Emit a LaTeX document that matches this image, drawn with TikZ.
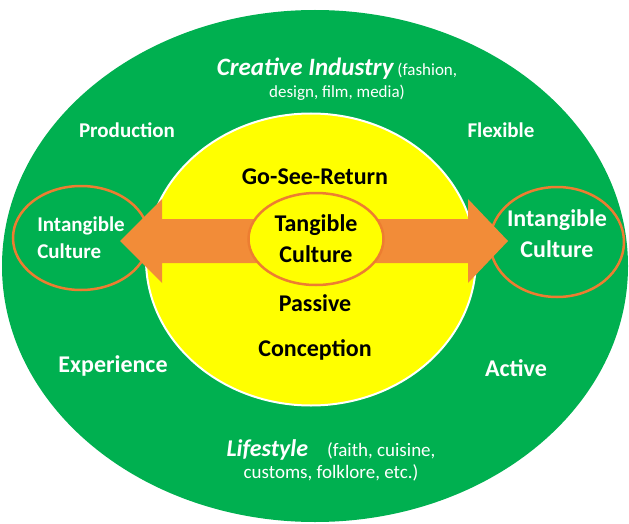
\documentclass[tikz,border=0pt]{standalone}
\usepackage{fontspec}
\setmainfont{Carlito}
\usetikzlibrary{shapes.geometric}
\definecolor{leafgreen}{HTML}{00B050}
\definecolor{sunyellow}{HTML}{FFFF00}
\definecolor{arroworange}{HTML}{F28C38}
\definecolor{ringorange}{HTML}{ED7D31}
\tikzset{
  ring/.style={ellipse, draw=ringorange, line width=2.5pt, inner sep=0pt},
  wlabel/.style={text=white, font=\bfseries\fontsize{24}{31}\selectfont, align=center},
  blabel/.style={text=black, font=\bfseries\fontsize{24}{31}\selectfont, align=center},
}
\begin{document}
\begin{tikzpicture}[x=1pt,y=-1pt]
	\useasboundingbox (0,0) rectangle (629,524);
	% discs
	\node[ellipse, fill=leafgreen, minimum width=626pt, minimum height=512pt, inner sep=0pt] (life) at (315,266) {};
	\node[ellipse, fill=sunyellow, draw=white, line width=2pt, minimum width=330pt, minimum height=292pt, inner sep=0pt] (core) at (311,259.5) {};
	% intangible rings
	\node[ring, minimum width=136pt, minimum height=104pt] (intl) at (81,238) {};
	\node[wlabel, align=left, font=\bfseries\fontsize{21}{27}\selectfont] (intltext) at (intl) {Intangible\\Culture};
	\node[ring, minimum width=134pt, minimum height=110pt] (intr) at (557,242) {};
	\node[wlabel, yshift=8pt] (intrtext) at (intr) {Intangible\\Culture};
	% double arrow
	\coordinate (tipl) at (120,241);
	\coordinate (tipr) at (508,241);
	\fill[arroworange] (tipl) -- ++(42,-42) -- ++(0,20) -- ++(306,0) -- ++(0,-20) -- (tipr)
		-- ++(-40,42) -- ++(0,-20) -- ++(-306,0) -- ++(0,20) -- cycle;
	\node[ring, fill=sunyellow, minimum width=135pt, minimum height=92pt, blabel] (tang) at (316,239) {Tangible\\Culture};
	% yellow words
	\node[blabel] (gosee) at (315,177) {Go-See-Return};
	\node[blabel] (passive) at (315,303) {Passive};
	\node[blabel] (concept) at (315,350) {Conception};
	% green words
	\node[wlabel, font=\bfseries\fontsize{21}{25}\selectfont] (prod) at (127,130) {Production};
	\node[wlabel, font=\bfseries\fontsize{21}{25}\selectfont] (flex) at (501,130) {Flexible};
	\node[wlabel] (exper) at (113,366) {Experience};
	\node[wlabel] (active) at (516,368) {Active};
	\node[wlabel, font=\fontsize{17}{22}\selectfont] (creative) at (337,79)
		{{\bfseries\itshape\fontsize{25}{22}\selectfont Creative Industry} (fashion,\\design, film, media)};
	\node[wlabel, font=\fontsize{19}{22}\selectfont] (lifestyle) at (331,460)
		{{\bfseries\itshape\fontsize{24}{22}\selectfont Lifestyle}\quad (faith, cuisine,\\customs, folklore, etc.)};
\end{tikzpicture}
\end{document}
